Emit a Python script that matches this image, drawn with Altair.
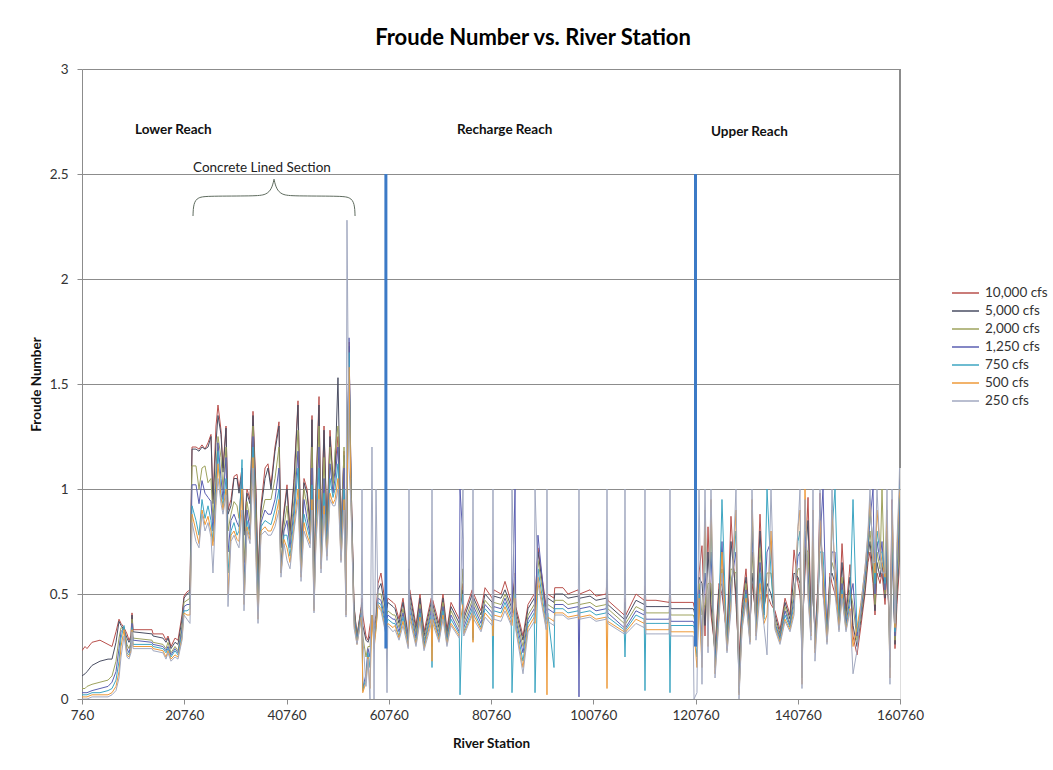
import altair as alt
import pandas as pd

# River stations (ft) shared by every flow profile
station = [
    760, 1350, 1740, 2720, 4280, 5850, 6630, 7410, 8000, 8390,
    8980, 9560, 9950, 10340, 10540, 10740, 14450, 14650, 16600, 17190,
    17580, 18170, 18950, 19540, 20320, 20710, 21300, 21880,
    # concrete lined section
    22280, 23060, 23650, 24230, 24820, 25410, 25990, 26380, 26970, 27360,
    27950, 28340, 28930, 29320, 29900, 30490, 31080, 31470, 32060, 32450,
    33030, 33620, 34210, 34790, 35190, 35770, 36560, 37140, 37730, 38510,
    39290, 39680, 40270, 40860, 41450, 42230, 43010, 43600, 44180, 44770,
    45360, 45750, 46140, 46530, 47120, 47510, 48100, 48680, 49270, 49860,
    50250, 50830, 51420, 52010, 52400, 52590, 52990, 53380, 53960, 54550,
    # transition
    55380, 55530, 55680, 56310, 56700, 57090, 57480, 57880, 58270, 58660,
    59240, 60270, 60420, 60570, 61590,
    # recharge reach
    61980, 62770, 63550, 64570, 64720, 64870, 66090, 66870, 67660, 69070,
    69220, 69370, 70590, 71370, 72150, 72940, 74550, 74700, 75280, 75430,
    77090, 77240, 77390, 78800, 79590, 81000, 81150, 81300, 82720, 83500,
    84720, 84870, 85460, 85610, 87020, 88000, 89220, 89370, 89950, 91560,
    91710, 91860, 93080, 93230, 94840, 95820, 97820, 97970, 98120, 100130,
    101300, 103300, 103450, 103600, 106820, 106970, 107120, 109120, 110730, 110880,
    111030, 113030, 115620, 115770, 115920, 117730, 118710, 120320, 120470,
    # upper reach
    121050, 121450, 122030, 122620, 123210, 123790, 124580, 125360, 125940, 126920,
    127700, 128680, 129270, 129860, 130640, 131420, 131810, 132590, 133380, 134160,
    134750, 135530, 136310, 137290, 138270, 139250, 140030, 140810, 141200, 141590,
    142180, 142770, 143350, 143740, 144130, 144720, 145110, 145700, 146480, 147070,
    147460, 148050, 148830, 149420, 150200, 150980, 151570, 152350, 153130, 153910,
    154500, 154890, 155480, 155870, 156260, 156850, 157240, 157830, 158220, 158800,
    159200, 159780, 160170, 160570, 160760,
]

# Froude number profiles, one list per flow
fr_10000 = [
    .23, .25, .24, .27, .28, .26, .25, .32, .38, .36, .34, .31, .28, .30,
    .41, .33, .33, .31, .31, .28, .30, .25, .29, .28, .40, .49, .51, .52,
    1.20, 1.20, 1.19, 1.21, 1.19, 1.22, 1.26, .95, 1.30, 1.40,
    1.28, 1.10, 1.30, .90, .95, 1.06, 1.07, 1.00, 1.10, .80,
    1.00, .95, 1.37, 1.00, .60, .92, 1.10, 1.12, 1.02, 1.20,
    1.32, .75, .90, 1.02, .80, 1.05, 1.42, .72, 1.05, 1.00,
    .85, 1.35, .55, 1.00, 1.44, .80, 1.30, .82, 1.28, 1.05,
    1.10, 1.25, .80, 1.18, .50, .95, 1.70, 1.05, .45, .30,
    .44, .48, .40, .30, .28, .35, .40, .35, .40, .55, .60, .42, .45, .48, .46,
    .45, .38, .48, .30, .40, .52, .35, .50, .32, .48,
    .30, .47, .36, .50, .33, .46, .38, .45, .55, .40,
    .52, .35, .50, .42, .53, .48, .40, .52, .50, .56,
    .46, .45, .60, .44, .30, .45, .50, .46, .72, .44,
    .45, .50, .48, .53, .53, .50, .52, .48, .50, .52,
    .49, .50, .60, .47, .40, .48, .40, .50, .47, .54,
    .47, .47, .46, .56, .46, .46, .46, .46, .44,
    .40, .60, .73, .30, .82, .40, .24, .55, .50, .30,
    .87, .45, .20, .45, .62, .35, .55, .40, .88, .45,
    .50, .45, .42, .33, .48, .40, .71, .55, .50, .30,
    .60, .96, .40, .55, .30, .55, .98, .50, .35, .60,
    .55, .50, .40, .74, .42, .64, .30, .21, .35, .50,
    .65, .70, .55, .40, .60, .55, .60, .45, .60, .30,
    .95, .24, .45, .60, 1.20,
]
fr_5000 = [
    .11, .12, .13, .16, .18, .19, .19, .27, .37, .35, .33, .29, .27, .29,
    .40, .32, .31, .30, .29, .27, .29, .24, .27, .26, .38, .48, .50, .51,
    1.19, 1.19, 1.18, 1.20, 1.19, 1.20, 1.25, .93, 1.22, 1.35,
    1.26, 1.08, 1.29, .88, .92, 1.05, 1.05, .98, 1.08, .78,
    .98, .93, 1.35, .96, .58, .90, 1.05, 1.10, 1.00, 1.18,
    1.30, .72, .88, 1.00, .78, 1.03, 1.40, .70, 1.03, .98,
    .83, 1.33, .52, .98, 1.40, .78, 1.28, .80, 1.25, 1.03,
    1.08, 1.53, .78, 1.16, .48, .95, 1.68, 1.05, .44, .30,
    .43, .46, .35, .28, .27, .30, .40, .33, .38, .52, .55, .40, .43, .46, .44,
    .43, .36, .46, .29, .38, .50, .33, .48, .30, .46,
    .29, .45, .34, .48, .31, .44, .36, .43, .52, .38,
    .50, .33, .48, .40, .50, .46, .38, .49, .48, .52,
    .44, .43, .58, .42, .28, .43, .48, .44, .70, .42,
    .43, .48, .46, .50, .50, .48, .49, .46, .48, .49,
    .47, .48, .57, .45, .38, .46, .38, .47, .45, .52,
    .44, .44, .44, .53, .43, .43, .43, .43, .42,
    .35, .58, .55, .35, .70, .45, .22, .52, .55, .28,
    .75, .50, .15, .42, .58, .33, .60, .38, .80, .43,
    .55, .50, .40, .31, .46, .38, .60, .58, .55, .25,
    .65, .85, .38, .60, .28, .52, .90, .55, .33, .58,
    .60, .55, .38, .65, .40, .58, .35, .25, .38, .52,
    .68, .75, .60, .42, .65, .58, .65, .48, .65, .28,
    .85, .26, .50, .65, 1.15,
]
fr_2000 = [
    .05, .05, .06, .07, .08, .09, .11, .18, .29, .34, .33, .26, .24, .27,
    .38, .29, .28, .27, .26, .24, .27, .22, .25, .23, .35, .46, .47, .48,
    1.11, 1.11, 1.00, 1.10, 1.11, 1.03, 1.05, .85, 1.10, 1.25,
    1.15, 1.00, 1.20, .80, .88, .94, .92, .86, 1.05, .65,
    .94, .85, 1.30, .90, .52, .86, .95, .95, .95, 1.05,
    1.20, .65, .82, .92, .75, .95, 1.28, .66, 1.00, .92,
    .80, 1.20, .48, .90, 1.30, .72, 1.15, .76, 1.20, 1.00,
    1.18, 1.30, .72, 1.20, .45, .95, 1.60, 1.00, .42, .29,
    .42, .40, .30, .20, .25, .25, .40, .30, .36, .50, .50, .37, .40, .42, .40,
    .40, .34, .43, .28, .36, .47, .31, .45, .28, .44,
    .27, .43, .32, .46, .29, .42, .34, .40, .62, .36,
    .47, .31, .46, .38, .47, .43, .36, .46, .45, .50,
    .42, .41, .55, .40, .25, .40, .45, .42, .66, .40,
    .40, .45, .43, .47, .47, .45, .46, .43, .45, .46,
    .44, .45, .52, .43, .36, .43, .36, .44, .42, .48,
    .41, .41, .41, .48, .40, .40, .40, .40, .39,
    .30, .55, .40, .45, .55, .55, .20, .48, .62, .26,
    .62, .60, .10, .40, .55, .31, .70, .36, .72, .41,
    .60, .60, .38, .30, .44, .36, .52, .62, .62, .20,
    .72, .70, .36, .65, .26, .50, .80, .60, .31, .55,
    .65, .60, .36, .58, .38, .52, .45, .28, .40, .55,
    .70, .80, .65, .45, .70, .62, 1.00, .50, .70, .25,
    .75, .28, .55, .70, 1.10,
]
fr_1250 = [
    .03, .03, .03, .04, .05, .06, .08, .13, .24, .32, .34, .24, .22, .26,
    .36, .28, .27, .26, .25, .23, .25, .21, .24, .22, .33, .44, .45, .45,
    1.02, 1.02, .93, 1.04, .98, .96, .94, .80, 1.03, 1.22,
    1.05, .95, 1.15, .70, .85, .88, .84, .82, 1.10, .55,
    .90, .80, 1.25, .80, .46, .84, .90, .88, .88, .95,
    1.10, .62, .80, .85, .72, .90, 1.18, .62, .95, .86,
    .78, 1.10, .45, .85, 1.20, .68, 1.05, .72, 1.12, .98,
    1.05, 1.20, .70, 1.10, .43, .95, 1.72, .98, .40, .28,
    .41, .38, .05, .12, .24, .20, .40, .28, .35, .48, .47, .35, .38, .40, .38,
    .38, .32, .41, .27, .62, .45, .29, .43, .26, .42,
    .25, .41, .30, .44, .28, .40, .32, 1.00, .76, .34,
    .45, .29, .44, .36, .45, .41, .34, .44, .43, .48,
    .40, .39, 1.00, .38, .22, .38, .43, .40, .78, .38,
    .38, .43, .41, .45, .45, .43, .44, .01, .43, .44,
    .42, .43, .48, .41, .34, .41, .34, .42, .40, .45,
    .38, .38, .38, .44, .37, .37, .37, .37, .36,
    .25, .52, .30, .60, .40, .70, .18, .45, .75, .25,
    .55, .70, .06, .38, .52, .30, .80, .34, .65, .40,
    .70, .75, .36, .29, .42, .35, .48, .68, .70, .15,
    .80, .60, .34, .72, .25, .48, .75, 1.00, .29, .52,
    .70, .70, .35, .55, .36, .48, .55, .30, .42, .58,
    .72, .85, 1.00, .50, .75, .66, .75, .52, .75, .20,
    .70, .30, .60, .80, 1.05,
]
fr_750 = [
    .02, .02, .02, .03, .03, .04, .05, .09, .18, .29, .35, .22, .21, .24,
    .34, .26, .26, .25, .24, .22, .24, .20, .23, .21, .31, .42, .42, .43,
    .92, .85, .78, .95, .86, .92, .85, .75, .98, 1.18,
    .98, .92, 1.05, .60, .80, .84, .78, .80, 1.14, .48,
    .85, .78, 1.20, .75, .42, .82, .85, .84, .83, .90,
    1.00, .60, .78, .78, .68, .86, 1.10, .60, .88, .82,
    .76, 1.02, .43, .80, 1.10, .64, .98, .70, 1.05, .96,
    1.00, 1.12, .68, 1.00, .42, .95, 1.65, .96, .38, .27,
    .40, .36, .04, .10, .22, .15, .40, .26, .34, .46, .45, .33, .36, .38, .36,
    .36, .30, .39, .26, .34, .42, .27, .41, .25, .40,
    .15, .39, .29, .42, .27, .38, .31, .02, .50, .32,
    .43, .28, .42, .34, .43, .39, .05, .42, .41, .46,
    .38, .03, .50, .36, .18, .36, .41, .03, .62, .36,
    .36, .41, .15, .43, .43, .41, .42, .40, .41, .42,
    .40, .41, .45, .39, .33, .20, .33, .40, .38, .04,
    .36, .36, .36, .03, .35, .35, .35, .35, .34,
    .20, .50, .20, .80, .30, .85, .15, .42, .95, .24,
    .50, .80, .03, .36, .50, .28, .90, .32, .60, .38,
    1.00, .60, .35, .28, .40, .34, .45, .75, .80, .10,
    .90, .55, .32, .80, .24, .46, .70, .70, .28, .50,
    .80, 1.00, .34, .52, .34, .45, .95, .32, .44, .60,
    .75, .90, .75, .55, .80, .70, .70, .55, .80, .15,
    .80, .32, .65, .90, 1.02,
]
fr_500 = [
    .01, .01, .01, .02, .02, .02, .03, .06, .13, .25, .33, .21, .20, .23,
    .33, .25, .25, .24, .23, .20, .23, .19, .21, .20, .29, .41, .40, .40,
    .88, .80, .74, .90, .83, .87, .80, .73, .95, 1.12,
    .96, .90, 1.00, .50, .78, .80, .76, .75, 1.00, .45,
    .82, .76, 1.15, .70, .38, .80, .82, .80, .80, .85,
    .95, .60, .76, .72, .65, .82, 1.00, .58, .84, .78,
    .74, .95, .42, .78, 1.00, .62, .92, .68, .98, .93,
    .95, 1.05, .66, .95, .40, .95, 1.58, .94, .36, .26,
    .39, .35, .03, .08, .20, .05, .40, .24, .33, .45, .43, .31, .34, .36, .34,
    .35, .29, .37, .25, .33, .40, .26, .39, .24, .38,
    .18, .38, .28, .40, .26, .36, .30, .36, .45, .31,
    .41, .27, .40, .33, .41, .37, .30, .40, .39, .44,
    .36, .35, .48, .34, .15, .34, .39, .36, .58, .34,
    .02, .39, .37, .41, .41, .39, .40, .38, .39, .40,
    .38, .39, .05, .37, .32, .37, .32, .38, .36, .40,
    .33, .33, .33, .38, .32, .32, .32, .32, .32,
    .15, .48, .15, .90, .25, .95, .12, .40, .70, .23,
    .45, .90, .02, .34, .48, .27, .95, .30, .55, .36,
    .40, .80, .34, .27, .38, .33, .42, .82, .90, .07,
    1.00, .50, .30, .90, .22, .44, .85, .60, .27, .48,
    .90, .60, .33, .50, .33, .43, .25, .34, .46, .62,
    .78, .95, .70, .60, .90, .72, .65, .58, .90, .10,
    .90, .34, .70, .95, 1.00,
]
fr_250 = [
    .00, .00, .00, .01, .01, .01, .02, .04, .10, .20, .30, .20, .19, .22,
    .32, .24, .24, .23, .22, .19, .22, .18, .20, .19, .28, .40, .38, .36,
    .84, .75, .72, .88, .80, .84, .77, .60, .92, 1.05,
    .93, .88, .97, .44, .75, .78, .74, .72, .90, .42,
    .80, .74, 1.10, .65, .36, .78, .80, .78, .78, .82,
    .90, .58, .74, .66, .62, .80, .95, .56, .80, .76,
    .72, .90, .41, .75, .95, .60, .88, .66, .95, .92,
    .92, 1.00, .65, .90, .39, 2.28, 1.10, .92, .34, .26,
    .38, 1.00, .30, .06, .19, .00, 1.20, .00, 1.00, .44, .42, .30, .03, .35, .32,
    .33, .28, .35, .24, 1.00, .38, .25, .37, .23, .36,
    1.00, .36, .27, .38, .25, .35, .29, .35, 1.00, .30,
    .40, 1.00, .38, .32, .39, .35, 1.00, .38, .37, .42,
    .35, 1.00, .46, .33, .12, .32, .37, 1.00, .55, .33,
    1.00, .37, .35, .40, .40, .38, .39, 1.00, .38, .39,
    .37, .38, 1.00, .36, .31, 1.00, .31, .36, .34, 1.00,
    .31, .31, .31, 1.00, .30, .30, .30, .30, .00,
    .03, 1.00, .07, 1.00, .22, 1.00, .10, .38, .60, .22,
    .42, 1.00, .00, .33, .46, .26, 1.00, .28, .50, .35,
    .21, 1.00, .33, .26, .37, .32, .40, .82, 1.00, .05,
    .95, .48, .28, 1.00, .18, .42, 1.00, .50, .26, .46,
    1.00, .50, .32, .48, .32, .42, .12, .23, .45, .62,
    .80, 1.00, .65, .65, 1.00, .70, .60, .60, 1.00, .07,
    1.00, .36, .75, 1.00, 1.20,
]

flows = ["10,000 cfs", "5,000 cfs", "2,000 cfs", "1,250 cfs", "750 cfs", "500 cfs", "250 cfs"]
flow_colors = ["#B9504C", "#4A4E63", "#9EA35E", "#5B5FB2", "#3EA6C2", "#EE9A3A", "#A2A9C0"]
profiles = [fr_10000, fr_5000, fr_2000, fr_1250, fr_750, fr_500, fr_250]

# Reach separators drawn as heavy blue verticals
sep_station = [60200, 120760]
sep_top = [2.5, 2.5]
sep_bottom = [0.24, 0.25]

# Reach names
reach_names = ["Lower Reach", "Recharge Reach", "Upper Reach"]
reach_station = [11130, 74110, 123790]
reach_froude = [2.71, 2.71, 2.70]

# Brace over the concrete lined section (two halves meeting at the tip)
brace_station = [22470, 22560, 23400, 25500, 34500, 36800, 37900, 38320,
                 54170, 54080, 53240, 51140, 42140, 39840, 38740, 38320]
brace_froude = [2.30, 2.36, 2.39, 2.395, 2.395, 2.40, 2.43, 2.475,
                2.30, 2.36, 2.39, 2.395, 2.395, 2.40, 2.43, 2.475]
brace_half = ["left"] * 8 + ["right"] * 8

x_ticks = [760, 20760, 40760, 60760, 80760, 100760, 120760, 140760, 160760]
y_ticks = [0, 0.5, 1, 1.5, 2, 2.5, 3]

FONT = "Lato"
GRID = "#8C8C8C"

records = []
for name, vals in zip(flows, profiles):
    for s, v in zip(station, vals):
        records.append({"station": s, "froude": v, "flow": name})
df = pd.DataFrame(records)

x_scale = alt.Scale(domain=[760, 160760], nice=False, zero=False)
y_scale = alt.Scale(domain=[0, 3], nice=False)

lines = alt.Chart(df).mark_line(strokeWidth=1, clip=True).encode(
    x=alt.X("station:Q", scale=x_scale,
            axis=alt.Axis(title="River Station", values=x_ticks, format="d",
                          grid=False, tickSize=5, tickColor=GRID, domainColor=GRID,
                          labelFlush=False, labelFont=FONT, labelFontSize=13.5,
                          labelColor="#333333", labelPadding=4, titleFont=FONT,
                          titleFontSize=13.5, titleFontWeight="bold",
                          titleColor="#111111", titlePadding=15)),
    y=alt.Y("froude:Q", scale=y_scale,
            axis=alt.Axis(title="Froude Number", values=y_ticks, format="~g",
                          grid=True, gridColor=GRID, tickSize=5, tickColor=GRID,
                          domainColor=GRID, labelFlush=False, labelFont=FONT,
                          labelFontSize=13.5, labelColor="#333333", labelPadding=9,
                          titleFont=FONT, titleFontSize=13.5, titleFontWeight="bold",
                          titleColor="#111111", titlePadding=6)),
    color=alt.Color("flow:N",
                    scale=alt.Scale(domain=flows, range=flow_colors),
                    legend=alt.Legend(title=None, orient="none", legendX=869, legendY=215,
                                      symbolType="stroke", symbolSize=729,
                                      symbolStrokeWidth=1.5, clipHeight=17.8,
                                      rowPadding=0, padding=0, labelOffset=5,
                                      labelFont=FONT, labelFontSize=13.5,
                                      labelColor="#333333")),
)

sep_df = pd.DataFrame({"station": sep_station, "top": sep_top, "bottom": sep_bottom})
separators = alt.Chart(sep_df).mark_rule(color="#3C7AC6", strokeWidth=3).encode(
    x=alt.X("station:Q", scale=x_scale),
    y=alt.Y("top:Q", scale=y_scale),
    y2="bottom:Q",
)

edge_df = pd.DataFrame({"station": [160760], "top": [3.0], "bottom": [1.1]})
edge = alt.Chart(edge_df).mark_rule(color="#8C8C8C", strokeWidth=2).encode(
    x=alt.X("station:Q", scale=x_scale),
    y=alt.Y("top:Q", scale=y_scale),
    y2="bottom:Q",
)

reach_df = pd.DataFrame({"station": reach_station, "froude": reach_froude, "name": reach_names})
reaches = alt.Chart(reach_df).mark_text(
    align="left", baseline="middle", font=FONT, fontSize=13.5, fontWeight="bold", color="#111111"
).encode(
    x=alt.X("station:Q", scale=x_scale),
    y=alt.Y("froude:Q", scale=y_scale),
    text="name:N",
)

concrete = alt.Chart(pd.DataFrame({"station": [22470], "froude": [2.53],
                                   "label": ["Concrete Lined Section"]})).mark_text(
    align="left", baseline="middle", font=FONT, fontSize=13.5, color="#222222"
).encode(
    x=alt.X("station:Q", scale=x_scale),
    y=alt.Y("froude:Q", scale=y_scale),
    text="label:N",
)

brace_df = pd.DataFrame({"station": brace_station, "froude": brace_froude, "half": brace_half,
                         "seq": list(range(len(brace_station)))})
brace = alt.Chart(brace_df).mark_line(color="#5E6B5E", strokeWidth=1, interpolate="basis").encode(
    x=alt.X("station:Q", scale=x_scale),
    y=alt.Y("froude:Q", scale=y_scale),
    detail="half:N",
    order="seq:Q",
)

chart = alt.layer(lines, separators, edge, reaches, concrete, brace).properties(
    width=818,
    height=630,
    padding={"left": 82, "top": 69, "right": 153, "bottom": 71},
    autosize=alt.AutoSizeParams(type="none"),
    title=alt.TitleParams("Froude Number vs. River Station", font=FONT, fontSize=22,
                          fontWeight="bold", color="#000000", anchor="middle",
                          dx=42, offset=12),
).configure_view(stroke=None).configure(background="white")

chart.save("out.html", embed_options={"renderer": "svg", "actions": False})
